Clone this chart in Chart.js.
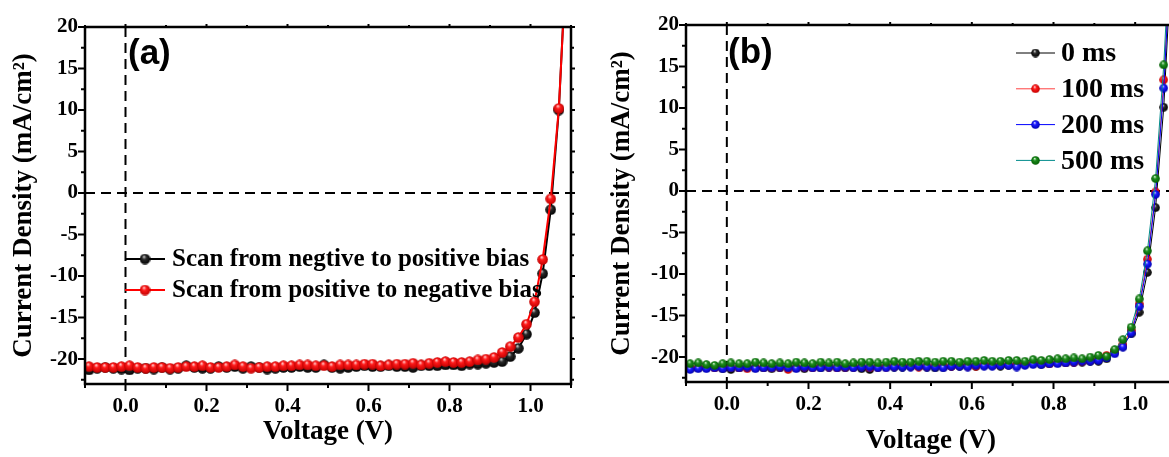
<!DOCTYPE html>
<html><head><meta charset="utf-8">
<script src="https://cdn.jsdelivr.net/npm/chart.js@4/dist/chart.umd.min.js"></script>
<style>
html,body{margin:0;padding:0;background:#fff;overflow:hidden;width:1169px;height:457px;position:relative}
#ca{position:absolute;left:0;top:0}
#cb{position:absolute;left:595px;top:0}
</style></head><body>
<canvas id="ca" width="600" height="457"></canvas>
<canvas id="cb" width="600" height="457"></canvas>
<script>
// ---------- DATA ----------
const voltage = [-0.09,-0.07,-0.05,-0.03,-0.01,0.01,0.03,0.05,0.07,0.09,0.11,0.13,0.15,0.17,0.19,0.21,0.23,0.25,0.27,0.29,0.31,0.33,0.35,0.37,0.39,0.41,0.43,0.45,0.47,0.49,0.51,0.53,0.55,0.57,0.59,0.61,0.63,0.65,0.67,0.69,0.71,0.73,0.75,0.77,0.79,0.81,0.83,0.85,0.87,0.89,0.91,0.93,0.95,0.97,0.99,1.01,1.03,1.05,1.07,1.09];

// panel (a)
const scanNegToPos = [-21.3,-21.1,-21.0,-21.1,-21.2,-21.3,-21.1,-21.1,-21.2,-21.0,
  -21.2,-21.1,-20.8,-21.0,-21.1,-21.1,-20.9,-21.0,-20.9,-21.1,
  -20.9,-21.0,-21.2,-21.1,-21.0,-21.0,-20.9,-21.0,-21.0,-20.7,
  -21.0,-21.1,-21.0,-20.9,-20.8,-20.9,-20.9,-20.8,-20.9,-20.9,
  -21.0,-20.8,-20.8,-20.8,-20.7,-20.7,-20.8,-20.6,-20.6,-20.5,
  -20.4,-20.3,-19.7,-18.7,-17.0,-14.4,-9.7,-2.0,10.0,30.0];
const scanPosToNeg = [-20.9,-21.0,-21.0,-21.0,-20.9,-20.8,-21.0,-21.1,-21.0,-21.0,
  -21.1,-21.0,-20.9,-20.9,-20.8,-21.0,-21.0,-20.9,-20.7,-20.9,
  -21.1,-21.0,-20.9,-20.9,-20.8,-20.8,-20.7,-20.7,-20.8,-20.8,
  -20.9,-20.7,-20.7,-20.7,-20.6,-20.6,-20.8,-20.7,-20.6,-20.6,
  -20.5,-20.7,-20.5,-20.4,-20.3,-20.4,-20.4,-20.3,-20.1,-20.0,
  -19.8,-19.2,-18.5,-17.4,-15.8,-13.1,-8.0,-0.7,10.2,29.5];
const legendA = ['Scan from negtive to positive bias','Scan from positive to negative bias'];

// panel (b)
const ms0 = [-21.4,-21.3,-21.3,-21.2,-21.4,-21.5,-21.3,-21.2,-21.3,-21.3,
  -21.4,-21.3,-21.2,-21.3,-21.4,-21.2,-21.3,-21.2,-21.2,-21.3,
  -21.2,-21.4,-21.5,-21.2,-21.1,-21.2,-21.2,-21.1,-21.1,-21.2,
  -21.3,-21.2,-21.1,-21.1,-21.0,-21.1,-21.0,-21.0,-21.1,-21.0,
  -21.0,-20.9,-20.8,-20.9,-20.8,-20.7,-20.7,-20.6,-20.6,-20.5,
  -20.5,-20.2,-19.4,-18.7,-17.2,-14.6,-9.8,-2.0,10.1,29.0];
const ms100 = [-21.3,-21.3,-21.2,-21.3,-21.3,-21.2,-21.3,-21.4,-21.3,-21.2,
  -21.3,-21.2,-21.5,-21.3,-21.2,-21.3,-21.1,-21.2,-21.3,-21.2,
  -21.2,-21.1,-21.3,-21.2,-21.2,-21.1,-21.0,-21.1,-21.2,-21.1,
  -21.0,-21.1,-21.1,-21.0,-21.1,-21.1,-20.9,-21.0,-20.9,-20.9,
  -21.0,-20.8,-20.6,-20.7,-20.8,-20.7,-20.6,-20.6,-20.5,-20.4,
  -20.2,-19.8,-19.3,-18.5,-16.8,-13.6,-8.2,-0.1,13.4,32.0];
const ms200 = [-21.5,-21.4,-21.4,-21.3,-21.4,-21.3,-21.3,-21.2,-21.4,-21.3,
  -21.3,-21.2,-21.3,-21.4,-21.2,-21.3,-21.3,-21.2,-21.3,-21.2,
  -21.3,-21.2,-21.2,-21.3,-21.3,-21.2,-21.2,-21.2,-21.1,-21.2,
  -21.2,-21.3,-21.1,-21.1,-21.2,-21.0,-21.1,-21.1,-21.0,-21.0,
  -21.2,-21.0,-20.9,-20.9,-20.8,-20.8,-20.7,-20.6,-20.5,-20.5,
  -20.4,-20.1,-19.6,-18.8,-17.1,-13.9,-8.8,-0.4,12.4,31.0];
const ms500 = [-20.8,-20.7,-20.9,-21.0,-20.8,-20.7,-20.8,-20.8,-20.6,-20.7,
  -20.8,-20.7,-20.8,-20.6,-20.7,-20.8,-20.6,-20.7,-20.6,-20.8,
  -20.7,-20.6,-20.6,-20.7,-20.6,-20.5,-20.6,-20.6,-20.5,-20.5,
  -20.6,-20.5,-20.5,-20.6,-20.5,-20.5,-20.4,-20.5,-20.5,-20.4,
  -20.4,-20.5,-20.3,-20.4,-20.3,-20.2,-20.2,-20.1,-20.2,-20.0,
  -19.8,-19.9,-19.1,-17.9,-16.4,-13.0,-7.2,1.5,15.2,34.0];
const legendB = ['0 ms','100 ms','200 ms','500 ms'];

// ticks
const xTickValues = [0.0,0.2,0.4,0.6,0.8,1.0];
const xTickLabels = ['0.0','0.2','0.4','0.6','0.8','1.0'];
const xMinorValues = [-0.1,0.1,0.3,0.5,0.7,0.9,1.1];
const yTickValues = [20,15,10,5,0,-5,-10,-15,-20];
const yTickLabels = ['20','15','10','5','0','-5','-10','-15','-20'];
const yMinorValues = [17.5,12.5,7.5,2.5,-2.5,-7.5,-12.5,-17.5,-22.5];
const xTitle = 'Voltage (V)';
const yTitle = 'Current Density (mA/cm\u00B2)';

// ---------- helpers ----------
const SERIF = "'Liberation Serif','Times New Roman',serif";
function ball(color, dark, hi, d){
  const c = document.createElement('canvas'); c.width = c.height = d;
  const g = c.getContext('2d'); const r = d/2;
  const grd = g.createRadialGradient(r*0.8, r*0.55, r*0.05, r, r, r);
  grd.addColorStop(0, hi); grd.addColorStop(0.35, color); grd.addColorStop(1, dark);
  g.fillStyle = grd; g.beginPath(); g.arc(r, r, r-0.2, 0, Math.PI*2); g.fill();
  return c;
}

const framePlugin = {
  id: 'frame',
  beforeDatasetsDraw(chart, args, o){
    const {ctx, chartArea:a, scales:{x, y}} = chart;
    ctx.save(); ctx.strokeStyle = '#000'; ctx.lineWidth = 2; ctx.setLineDash([10,6]);
    const x0 = x.getPixelForValue(0), y0 = y.getPixelForValue(0);
    ctx.beginPath();
    ctx.moveTo(a.left, y0); ctx.lineTo(a.right, y0);
    ctx.moveTo(x0, a.top); ctx.lineTo(x0, a.bottom);
    ctx.stroke(); ctx.restore();
  },
  afterDraw(chart, args, o){
    const {ctx, chartArea:a, scales:{x, y}} = chart;
    ctx.save();
    ctx.strokeStyle = '#000'; ctx.lineWidth = 2.5; ctx.setLineDash([]);
    ctx.strokeRect(a.left, a.top, a.right - a.left, a.bottom - a.top);
    ctx.lineWidth = 2;
    ctx.beginPath();
    const tk = (vals, len, topLen) => vals.forEach(v => {
      const px = x.getPixelForValue(v);
      ctx.moveTo(px, a.bottom); ctx.lineTo(px, a.bottom + len);
      ctx.moveTo(px, a.top); ctx.lineTo(px, a.top - topLen);
    });
    tk(xTickValues, 7, 3); tk(xMinorValues, 4, 2);
    const ty = (vals, len, rLen) => vals.forEach(v => {
      const py = y.getPixelForValue(v);
      ctx.moveTo(a.left, py); ctx.lineTo(a.left - len, py);
      ctx.moveTo(a.right, py); ctx.lineTo(a.right + rLen, py);
    });
    ty(yTickValues, 7, 4); ty(yMinorValues, 4, 3);
    ctx.stroke();
    // panel label
    ctx.fillStyle = '#000';
    ctx.font = "bold 35px 'Liberation Sans',Arial,sans-serif";
    ctx.textBaseline = 'alphabetic'; ctx.textAlign = 'left';
    ctx.fillText(o.label, o.labelX, o.labelY);
    // legend
    ctx.font = 'bold ' + o.legFont + 'px ' + SERIF;
    ctx.textBaseline = 'middle';
    o.legend.forEach((it, i) => {
      const yy = o.legY + i*o.legStep;
      ctx.strokeStyle = it.line; ctx.lineWidth = it.lw;
      ctx.beginPath(); ctx.moveTo(o.legX0, yy); ctx.lineTo(o.legX1, yy); ctx.stroke();
      const img = it.ball;
      ctx.drawImage(img, (o.legX0 + o.legX1)/2 - img.width/2, yy - img.height/2);
      ctx.fillStyle = '#000';
      ctx.fillText(it.text, o.legTextX, yy + 1);
    });
    ctx.restore();
  }
};

function makeScales(yw, xh, ytp, xtp){
  return {
    x: {
      type: 'linear', min: -0.1, max: 1.1,
      grid: {display: false, drawTicks: false}, border: {display: false},
      afterBuildTicks: s => { s.ticks = xTickValues.map(v => ({value: v})); },
      afterFit: s => { s.height = xh; },
      ticks: {
        padding: 10, color: '#000', maxRotation: 0, autoSkip: false,
        font: {family: SERIF, size: 21, weight: 'bold'},
        callback: (v, i) => xTickLabels[i]
      },
      title: {display: true, text: xTitle, color: '#000',
        font: {family: SERIF, size: 27, weight: 'bold'}, padding: {top: 0, bottom: xtp}}
    },
    y: {
      type: 'linear', min: -23, max: 20,
      grid: {display: false, drawTicks: false}, border: {display: false},
      afterBuildTicks: s => { s.ticks = yTickValues.map(v => ({value: v})); },
      afterFit: s => { s.width = yw; },
      ticks: {
        padding: 7, color: '#000', autoSkip: false,
        font: {family: SERIF, size: 21, weight: 'bold'},
        callback: (v, i) => yTickLabels[i]
      },
      title: {display: true, text: yTitle, color: '#000',
        font: {family: SERIF, size: 27, weight: 'bold'}, padding: {top: ytp, bottom: 0}}
    }
  };
}

// ---------- panel (a) ----------
const ballBlackA = ball('#2a2a2a', '#000000', '#cfcfcf', 11);
const ballRedA = ball('#ff1a1a', '#c00000', '#ffd0d0', 11);
new Chart(document.getElementById('ca'), {
  type: 'line',
  data: {
    datasets: [
      {label: legendA[0], data: voltage.map((v, i) => ({x: v, y: scanNegToPos[i]})),
       borderColor: '#000', borderWidth: 2, pointStyle: ballBlackA, pointRadius: 5.5, order: 1,
       clip: {left: 8, top: 0, right: 8, bottom: 8}},
      {label: legendA[1], data: voltage.map((v, i) => ({x: v, y: scanPosToNeg[i]})),
       borderColor: '#ff0000', borderWidth: 2, pointStyle: ballRedA, pointRadius: 5.5, order: 0,
       clip: {left: 8, top: 0, right: 8, bottom: 8}}
    ]
  },
  options: {
    responsive: false, animation: false, events: [],
    layout: {padding: {left: 0, right: 29, top: 27, bottom: 0}},
    elements: {line: {tension: 0}},
    plugins: {
      legend: {display: false}, tooltip: {enabled: false},
      frame: {
        label: '(a)', labelX: 128, labelY: 64,
        legFont: 25, legX0: 125, legX1: 165, legTextX: 172, legY: 259, legStep: 31,
        legend: [
          {text: legendA[0], line: '#000', lw: 2, ball: ballBlackA},
          {text: legendA[1], line: '#ff0000', lw: 2, ball: ballRedA}
        ]
      }
    },
    scales: makeScales(85, 73, 8, 9)
  },
  plugins: [framePlugin]
});

// ---------- panel (b) ----------
const bK = ball('#2a2a2a', '#000000', '#cfcfcf', 9);
const bR = ball('#ff1a1a', '#c00000', '#ffd0d0', 9);
const bB = ball('#1a1aff', '#0000b0', '#d0d0ff', 9);
const bG = ball('#1e8c1e', '#005a00', '#d0f0d0', 9);
const clipB = {left: 8, top: 0, right: 8, bottom: 8};
new Chart(document.getElementById('cb'), {
  type: 'line',
  data: {
    datasets: [
      {label: legendB[0], data: voltage.map((v, i) => ({x: v, y: ms0[i]})),
       borderColor: '#000', borderWidth: 1, pointStyle: bK, pointRadius: 4.5, order: 3, clip: clipB},
      {label: legendB[1], data: voltage.map((v, i) => ({x: v, y: ms100[i]})),
       borderColor: '#ff4040', borderWidth: 1, pointStyle: bR, pointRadius: 4.5, order: 2, clip: clipB},
      {label: legendB[2], data: voltage.map((v, i) => ({x: v, y: ms200[i]})),
       borderColor: '#0000ff', borderWidth: 1, pointStyle: bB, pointRadius: 4.5, order: 1, clip: clipB},
      {label: legendB[3], data: voltage.map((v, i) => ({x: v, y: ms500[i]})),
       borderColor: '#008b8b', borderWidth: 1, pointStyle: bG, pointRadius: 4.5, order: 0, clip: clipB}
    ]
  },
  options: {
    responsive: false, animation: false, events: [],
    layout: {padding: {left: 0, right: 19, top: 25, bottom: 0}},
    elements: {line: {tension: 0}},
    plugins: {
      legend: {display: false}, tooltip: {enabled: false},
      frame: {
        label: '(b)', labelX: 133, labelY: 63,
        legFont: 28, legX0: 421, legX1: 460, legTextX: 466, legY: 53, legStep: 35.8,
        legend: [
          {text: legendB[0], line: '#000', lw: 1, ball: bK},
          {text: legendB[1], line: '#ff4040', lw: 1, ball: bR},
          {text: legendB[2], line: '#0000ff', lw: 1, ball: bB},
          {text: legendB[3], line: '#008b8b', lw: 1, ball: bG}
        ]
      }
    },
    scales: makeScales(91, 75, 11, 0)
  },
  plugins: [framePlugin]
});
</script>
</body></html>
